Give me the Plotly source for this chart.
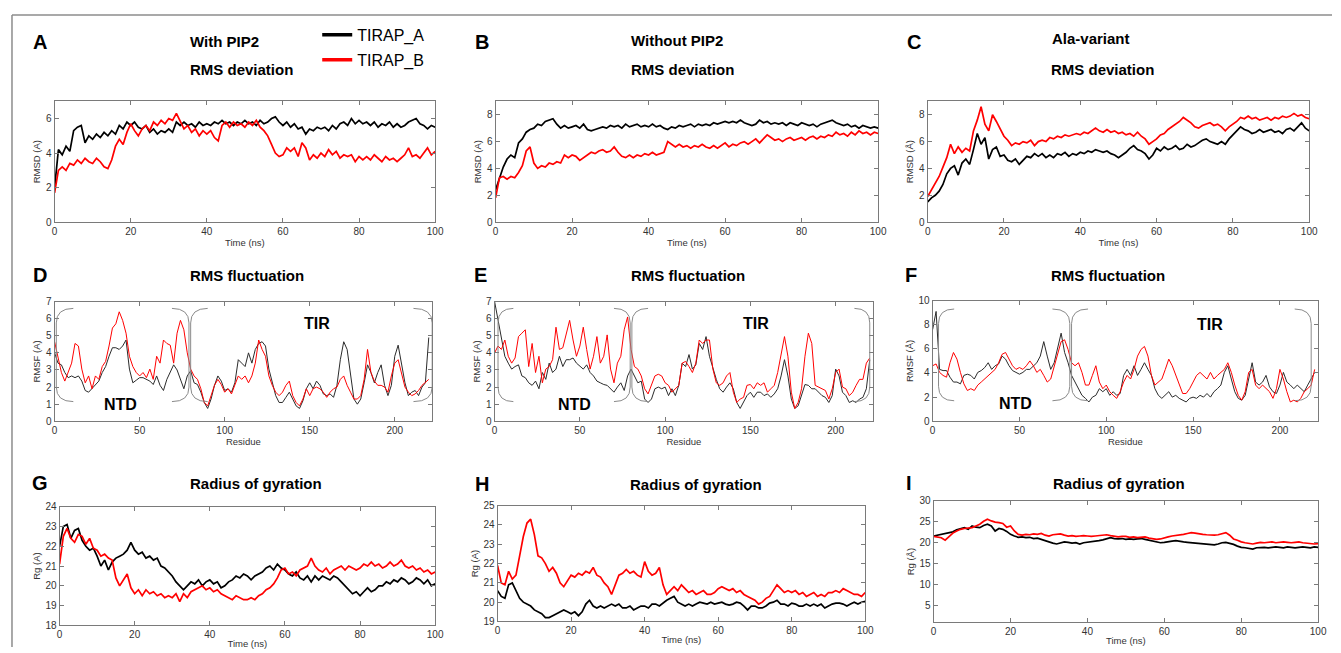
import plotly.graph_objects as go

# the page body puts the figure 8 px in from the window corner
PAGE_OFFSET = 8
FIG_W, FIG_H = 1341 - PAGE_OFFSET, 653 - PAGE_OFFSET

TIME_NS = list(range(0, 101))
RESIDUE = list(range(0, 221, 2))

# RMS deviation, with PIP2 (panel A)
RMSD_WITH_A = [
    2.0, 4.2, 3.9, 4.4, 4.1, 5.3, 5.5, 5.6, 4.6, 5.0,
    4.8, 5.1, 4.9, 5.2, 5.0, 5.3, 5.1, 5.6, 5.4, 5.8,
    5.6, 5.8, 5.5, 5.4, 5.6, 5.2, 5.4, 5.1, 5.3, 5.2,
    5.4, 5.2, 5.8, 5.6, 5.8, 5.6, 5.7, 5.5, 5.8, 5.6,
    5.7, 5.6, 5.8, 5.7, 5.9, 5.7, 5.8, 5.6, 5.8, 5.7,
    5.9, 5.7, 5.8, 5.6, 5.9, 5.7, 5.8, 6.0, 6.1, 5.8,
    5.6, 5.8, 5.5, 5.7, 5.4, 5.5, 5.1, 5.4, 5.3, 5.5,
    5.4, 5.5, 5.3, 5.6, 5.4, 5.7, 5.8, 5.6, 6.0, 5.7,
    5.9, 5.7, 5.8, 5.6, 5.8, 5.5, 5.7, 5.6, 5.8, 5.5,
    5.7, 5.5, 5.6, 5.8, 5.9, 6.0, 5.7, 5.6, 5.4, 5.6,
    5.5,
]
RMSD_WITH_B = [
    1.7, 3.0, 3.2, 3.0, 3.4, 3.3, 3.6, 3.4, 3.7, 3.5,
    3.4, 3.7, 3.5, 3.2, 3.1, 3.6, 4.4, 4.8, 4.5, 5.2,
    5.7, 5.3, 5.0, 5.4, 5.6, 5.3, 5.8, 5.6, 5.9, 5.7,
    6.0, 5.9, 6.3, 5.8, 5.4, 5.6, 5.2, 5.4, 5.0, 5.3,
    5.1, 5.3, 4.9, 4.7, 5.6, 5.8, 5.5, 5.8, 5.6, 5.7,
    5.5, 5.8, 5.6, 5.9, 5.5, 5.3, 5.0, 4.5, 4.0, 3.8,
    3.9, 4.3, 4.1, 4.3, 3.8, 4.6, 4.3, 3.6, 3.9, 3.7,
    4.0, 3.8, 4.2, 3.9, 4.1, 3.7, 3.9, 3.8, 3.9, 3.5,
    3.8, 3.6, 3.8, 3.6, 3.9, 3.7, 3.5, 3.8, 3.6, 3.7,
    3.5, 3.7, 3.9, 4.3, 3.8, 3.9, 3.7, 4.0, 4.3, 3.9,
    4.1,
]

# RMS deviation, without PIP2 (panel B)
RMSD_WITHOUT_A = [
    2.4, 3.2, 4.1, 4.7, 5.0, 4.8, 5.9, 6.2, 6.7, 6.9,
    7.0, 7.3, 7.2, 7.5, 7.6, 7.7, 7.3, 7.0, 7.2, 7.0,
    7.1, 7.2, 7.0, 7.3, 6.9, 6.8, 6.9, 7.0, 7.1, 7.0,
    7.2, 7.1, 7.2, 7.0, 7.3, 7.1, 7.2, 7.3, 7.1, 7.2,
    7.1, 7.3, 7.1, 7.2, 7.0, 6.9, 7.1, 7.0, 7.2, 7.1,
    7.2, 7.3, 7.1, 7.3, 7.2, 7.3, 7.2, 7.4, 7.3, 7.4,
    7.5, 7.4, 7.5, 7.4, 7.6, 7.4, 7.3, 7.2, 7.3, 7.6,
    7.4, 7.5, 7.3, 7.4, 7.3, 7.4, 7.2, 7.4, 7.3, 7.2,
    7.4, 7.3, 7.2, 7.3, 7.1, 7.3, 7.4, 7.5, 7.6, 7.4,
    7.3, 7.2, 7.3, 7.1, 7.2, 7.0, 7.2, 7.1, 7.0, 7.1,
    7.0,
]
RMSD_WITHOUT_B = [
    1.8, 3.3, 3.4, 3.2, 3.4, 3.3, 3.7, 4.2, 5.3, 5.6,
    4.4, 4.0, 4.2, 4.1, 4.4, 4.3, 4.5, 4.4, 5.0, 4.8,
    5.0, 4.9, 4.6, 4.8, 5.0, 5.2, 5.1, 5.3, 5.4, 5.2,
    5.3, 5.6, 5.2, 4.9, 4.8, 5.0, 4.8, 5.0, 4.9, 5.1,
    5.0, 5.2, 5.0, 5.1, 5.2, 6.0, 5.8, 5.6, 5.8, 5.6,
    5.7, 5.5, 5.7, 5.6, 5.8, 5.6, 5.5, 5.7, 5.5, 5.7,
    5.9, 5.6, 5.8, 5.7, 5.9, 6.0, 5.8, 6.0, 6.2, 5.9,
    6.2, 6.5, 6.3, 6.1, 6.2, 6.0, 6.2, 6.3, 6.1, 6.2,
    6.3, 6.1, 6.3, 6.4, 6.2, 6.4, 6.3, 6.5, 6.4, 6.7,
    6.5, 6.6, 6.4, 6.7, 6.5, 6.8, 6.6, 6.7, 6.5, 6.7,
    6.6,
]

# RMS deviation, Ala-variant (panel C)
RMSD_ALA_A = [
    1.5, 1.8, 2.0, 2.3, 2.8, 3.6, 4.0, 4.2, 3.5, 4.4,
    4.7, 4.3, 5.4, 6.6, 5.8, 6.3, 4.7, 5.4, 5.6, 4.9,
    5.0, 4.6, 4.5, 4.7, 4.3, 4.6, 4.9, 4.8, 5.1, 4.9,
    5.1, 4.8, 5.0, 4.8, 5.1, 5.0, 5.2, 4.9, 5.1, 5.0,
    5.2, 5.1, 5.3, 5.2, 5.4, 5.3, 5.2, 5.3, 5.1, 5.0,
    4.8, 5.0, 5.2, 5.5, 5.7, 5.4, 5.3, 5.1, 4.7, 5.0,
    5.5, 5.3, 5.6, 5.4, 5.5, 5.7, 5.4, 5.5, 5.8, 5.6,
    5.7, 5.9, 6.1, 6.2, 6.0, 5.9, 5.8, 6.0, 5.8, 6.2,
    6.5, 6.8, 7.1, 6.9, 6.8, 6.6, 6.7, 6.9, 6.7, 6.8,
    6.9, 6.7, 6.8, 6.6, 6.9, 7.0, 6.8, 7.1, 7.4, 7.0,
    6.8,
]
RMSD_ALA_B = [
    1.9, 2.4, 2.9, 3.4, 4.1, 4.8, 5.8, 5.1, 5.6, 5.2,
    5.5, 5.3, 6.8, 7.6, 8.6, 7.3, 6.8, 8.0, 7.5, 6.9,
    6.4, 6.1, 5.7, 5.9, 5.8, 6.0, 5.9, 6.1, 5.7, 6.0,
    6.1, 6.0, 6.3, 6.2, 6.4, 6.3, 6.5, 6.4, 6.5, 6.6,
    6.5, 6.7, 6.6, 6.8, 7.0, 6.8, 6.7, 6.9, 6.7, 6.8,
    6.6, 6.7, 6.5, 6.6, 6.4, 6.7, 6.4, 6.2, 5.8, 6.0,
    6.2, 6.5, 6.6, 6.9, 7.1, 7.3, 7.5, 7.8, 7.6, 7.4,
    7.1, 7.0, 7.2, 7.3, 7.4, 7.2, 7.3, 7.1, 6.8, 7.1,
    7.3, 7.5, 7.8, 7.7, 7.9, 7.7, 7.8, 7.6, 7.7, 7.8,
    7.6, 7.8, 7.7, 7.9, 7.8, 7.9, 8.1, 7.9, 8.0, 7.8,
    7.7,
]

# RMS fluctuation per residue (panels D, E, F)
RMSF_WITH_A = [
    4.0, 3.4, 3.3, 2.85, 2.55, 2.65, 2.55, 2.65, 2.35, 1.8,
    1.7, 1.9, 2.1, 2.35, 2.85, 3.2, 3.8, 4.3, 4.3, 4.2,
    4.4, 4.75, 3.05, 2.25, 2.4, 2.55, 2.55, 2.45, 2.35, 2.15,
    2.65, 2.1, 1.8, 2.45, 2.85, 3.3, 3.0, 2.45, 1.9, 2.65,
    2.95, 2.25, 2.15, 1.7, 1.1, 0.75, 1.3, 2.1, 2.65, 2.35,
    1.8, 1.9, 1.7, 2.25, 3.6, 3.4, 3.2, 4.0, 3.4, 4.2,
    4.55, 4.65, 4.4, 3.05, 2.25, 1.5, 1.1, 1.1, 1.4, 1.7,
    1.3, 0.9, 0.75, 1.2, 1.9, 2.25, 1.9, 2.35, 2.1, 1.6,
    1.5, 1.6, 1.4, 2.1, 3.6, 4.65, 4.2, 2.65, 1.3, 1.0,
    1.3, 2.25, 3.3, 2.85, 2.25, 2.85, 3.3, 2.1, 1.5, 2.1,
    3.8, 4.45, 3.4, 2.25, 1.5, 1.7, 1.8, 1.5, 2.0, 2.25,
    4.9,
]
RMSF_WITH_B = [
    4.65, 3.8, 2.85, 2.35, 2.85, 3.4, 4.55, 4.4, 3.05, 2.25,
    2.65, 1.9, 2.65, 2.45, 3.2, 3.5, 4.4, 5.45, 5.7, 6.4,
    5.9, 5.15, 3.8, 3.2, 2.85, 2.65, 2.85, 2.55, 3.05, 2.45,
    3.8, 3.4, 4.75, 4.55, 4.45, 3.4, 5.15, 5.9, 5.35, 4.0,
    3.05, 2.65, 2.45, 1.9, 1.1, 0.9, 1.5, 2.1, 2.45, 2.15,
    1.7, 1.9, 1.6, 2.1, 2.65, 2.45, 2.65, 2.25, 2.65, 3.4,
    4.75, 4.2, 3.8, 2.65, 2.1, 1.7, 1.5, 1.7, 2.1, 2.35,
    1.5, 1.1, 0.9, 1.3, 1.9, 1.5, 1.9, 2.0, 1.9, 1.7,
    1.4, 1.7, 1.9, 2.0, 2.45, 2.65, 2.1, 1.7, 1.3, 1.3,
    1.5, 2.45, 4.2, 2.85, 2.35, 2.1, 2.1, 2.0, 1.7, 2.65,
    3.4, 3.6, 2.85, 2.0, 1.7, 1.5, 1.6, 1.8, 2.1, 2.25,
    2.45,
]
RMSF_WITHOUT_A = [
    7.0, 5.9, 4.75, 3.8, 3.4, 3.05, 3.2, 3.3, 2.65, 2.55,
    2.25, 2.1, 2.35, 1.9, 2.85, 2.45, 3.4, 2.85, 3.05, 3.8,
    3.2, 3.6, 3.6, 3.7, 3.4, 3.2, 3.05, 3.3, 2.85, 2.65,
    2.35, 2.25, 2.15, 2.1, 1.9, 1.7, 2.0, 2.25, 1.8, 2.65,
    3.05, 2.65, 2.25, 2.35, 1.3, 1.1, 1.3, 1.9, 2.0, 1.9,
    2.0, 1.5, 1.9, 1.5, 2.1, 3.4, 3.2, 3.9, 3.05, 3.3,
    4.55, 4.2, 4.95, 3.8, 3.05, 2.45, 1.9, 1.7, 2.0, 2.25,
    1.9, 1.1, 0.75, 1.1, 1.5, 1.7, 1.4, 1.7, 1.7, 1.5,
    1.6, 1.4, 1.6, 1.9, 2.65, 3.6, 2.65, 1.3, 0.75, 0.9,
    1.5, 2.15, 2.1, 1.9, 1.9, 1.7, 1.5, 1.4, 1.1, 1.5,
    3.05, 2.65, 1.7, 1.5, 1.1, 1.2, 1.1, 1.3, 1.4, 1.9,
    3.6,
]
RMSF_WITHOUT_B = [
    4.0, 4.4, 4.2, 4.75, 3.8, 3.4, 3.7, 4.95, 5.15, 5.35,
    3.2, 4.55, 2.85, 3.8, 2.25, 3.05, 3.2, 3.6, 5.5, 4.2,
    4.3, 5.15, 5.9, 4.75, 3.8, 4.4, 5.5, 4.2, 3.05, 3.8,
    4.95, 3.4, 3.8, 5.05, 3.05, 2.25, 3.4, 3.8, 5.35, 6.1,
    4.2, 3.2, 3.05, 2.65, 1.9, 1.6, 2.1, 2.65, 2.75, 2.65,
    2.25, 2.1, 1.7, 1.9, 2.1, 3.4, 3.5, 3.2, 2.85, 3.4,
    4.75, 4.55, 4.75, 4.75, 3.05, 2.25, 2.1, 2.25, 2.65, 2.85,
    1.7, 1.1, 1.3, 1.4, 2.1, 2.15, 1.9, 2.25, 2.1, 2.25,
    1.7, 1.9, 2.1, 2.85, 3.8, 4.95, 3.8, 1.7, 0.75, 1.1,
    1.9, 3.8, 5.15, 4.55, 2.1, 2.0, 1.9, 1.8, 1.3, 1.9,
    2.85, 3.05, 2.0, 1.9, 1.5, 1.7, 2.1, 2.45, 2.45, 3.4,
    3.7,
]
RMSF_ALA_A = [
    7.6, 9.1, 4.3, 4.2, 4.2, 3.65, 3.25, 3.25, 3.1, 3.8,
    3.9, 3.8, 3.5, 4.05, 4.2, 4.45, 4.85, 4.3, 4.6, 4.75,
    5.4, 5.15, 4.6, 4.2, 4.05, 3.9, 4.05, 4.3, 4.3, 4.6,
    4.85, 5.4, 6.6, 5.4, 4.3, 4.85, 6.2, 7.3, 5.7, 4.85,
    3.8, 3.25, 2.7, 2.15, 1.9, 1.6, 2.0, 2.15, 2.7, 2.45,
    2.7, 2.15, 2.45, 2.15, 2.3, 3.8, 4.3, 3.8, 4.6, 3.8,
    4.3, 4.85, 4.3, 3.8, 2.7, 2.15, 1.9, 2.15, 2.45, 2.0,
    2.15, 1.9, 1.75, 1.6, 1.9, 2.0, 1.9, 2.15, 2.0, 2.3,
    2.0, 2.45, 2.7, 3.0, 4.05, 4.6, 3.5, 2.45, 1.9, 1.75,
    2.15, 3.5, 4.85, 3.25, 3.0, 3.25, 3.8, 2.85, 2.45, 2.3,
    3.0, 4.05, 3.25, 3.0, 2.7, 3.0, 2.7, 2.45, 3.0, 3.5,
    4.05,
]
RMSF_ALA_B = [
    4.6, 4.75, 4.05, 3.8, 3.65, 4.85, 5.7, 5.15, 4.05, 3.1,
    2.55, 2.7, 2.55, 3.0, 3.25, 3.5, 3.8, 4.05, 4.3, 4.85,
    5.55, 5.7, 5.15, 4.6, 4.3, 4.45, 4.3, 4.6, 5.0, 4.6,
    4.05, 4.3, 3.8, 3.25, 3.5, 4.6, 5.7, 6.6, 6.75, 5.95,
    4.85, 4.6, 4.85, 4.05, 3.0, 3.0, 3.8, 4.6, 3.25, 2.7,
    3.0, 2.45, 2.15, 1.9, 2.45, 3.25, 3.8, 3.5, 4.3, 5.4,
    5.95, 6.2, 5.4, 3.8, 3.0, 3.25, 3.5, 4.3, 5.15, 4.6,
    3.8, 3.0, 2.3, 2.3, 2.7, 3.25, 3.8, 4.05, 3.8, 3.5,
    4.05, 3.5, 3.8, 4.05, 4.3, 4.85, 4.05, 3.0, 2.15, 1.75,
    2.45, 4.05, 4.3, 3.0, 2.7, 3.0, 2.7, 2.45, 1.9, 2.7,
    4.3, 3.5, 2.45, 1.6, 1.75, 1.6, 1.9, 2.45, 2.7, 3.0,
    4.3,
]

# Radius of gyration (panels G, H, I)
RG_WITH_A = [
    22.0, 23.0, 23.1, 22.4, 22.8, 22.9, 22.3, 22.0, 21.8, 21.9,
    21.5, 21.0, 21.3, 20.8, 21.2, 21.4, 21.5, 21.6, 21.8, 22.2,
    21.8, 21.6, 21.7, 21.4, 21.5, 21.3, 21.4, 21.0, 20.9, 20.7,
    20.5, 20.2, 20.0, 19.8, 20.0, 20.2, 20.1, 20.3, 20.0, 20.2,
    20.3, 20.1, 20.2, 19.9, 20.0, 20.2, 20.3, 20.5, 20.4, 20.6,
    20.5, 20.3, 20.5, 20.6, 20.7, 20.9, 21.0, 20.8, 21.1, 20.9,
    20.8, 20.6, 20.5, 20.7, 20.4, 20.3, 20.5, 20.2, 20.5, 20.3,
    20.5, 20.4, 20.3, 20.5, 20.4, 20.2, 20.0, 19.8, 19.6, 19.7,
    19.5, 19.7, 19.9, 19.7, 19.8, 20.0, 20.0, 20.2, 20.1, 20.3,
    20.2, 20.4, 20.3, 20.1, 20.2, 20.4, 20.3, 20.1, 20.3, 20.0,
    20.1,
]
RG_WITH_B = [
    21.1, 22.5, 22.9, 22.4, 22.2, 22.6, 22.5, 22.1, 22.4, 21.9,
    21.8, 21.5, 21.6, 21.4, 21.3, 20.4, 20.0, 20.3, 20.6, 19.9,
    19.6, 19.8, 19.5, 19.8, 19.6, 19.7, 19.5, 19.6, 19.4, 19.5,
    19.4, 19.6, 19.2, 19.6, 19.4, 19.7, 19.8, 19.9, 20.0, 19.8,
    19.9, 19.7, 19.8, 19.6, 19.5, 19.4, 19.3, 19.5, 19.4, 19.3,
    19.3, 19.4, 19.3, 19.5, 19.6, 19.8, 19.9, 20.1, 20.4, 20.8,
    20.9, 20.6, 20.7, 20.5, 20.8, 20.9, 21.0, 21.4, 21.0, 20.8,
    20.7, 20.9, 20.6, 20.8, 20.9, 21.0, 20.8, 21.0, 20.9, 20.8,
    20.9, 21.1, 21.0, 21.2, 21.0, 21.1, 20.9, 21.0, 21.2, 21.0,
    21.1, 21.3, 21.0, 20.9, 21.0, 20.8, 20.9, 20.7, 20.8, 20.6,
    20.7,
]
RG_WITHOUT_A = [
    20.6, 20.3, 20.2, 20.9, 21.0, 20.6, 20.2, 20.0, 19.9, 19.8,
    19.6, 19.5, 19.4, 19.2, 19.2, 19.3, 19.4, 19.5, 19.6, 19.5,
    19.4, 19.5, 19.3, 19.5, 19.9, 20.1, 19.8, 19.7, 19.8, 19.7,
    19.8, 19.9, 19.8, 19.9, 19.7, 19.7, 19.8, 19.6, 19.7, 19.8,
    19.8, 19.7, 19.9, 19.9, 19.8, 19.95, 20.1, 20.2, 20.3, 20.0,
    19.9, 19.8, 19.9, 19.8, 19.9, 20.0, 19.95, 19.9, 20.0, 19.9,
    19.95, 20.0, 19.9, 19.85, 19.9, 20.0, 19.95, 19.8, 19.6, 19.8,
    19.8, 19.7, 19.7, 19.8, 19.95, 20.0, 20.1, 19.9, 19.9, 19.8,
    19.95, 19.9, 19.8, 19.8, 19.9, 19.8, 19.9, 19.8, 19.9, 19.7,
    19.8, 19.9, 19.95, 19.95, 19.9, 19.8, 19.9, 20.0, 19.9, 20.0,
    20.05,
]
RG_WITHOUT_B = [
    21.9, 21.0, 20.9, 21.6, 21.2, 21.4, 22.4, 23.4, 24.1, 24.3,
    23.5, 22.4, 22.3, 22.0, 21.6, 21.8, 21.5, 21.0, 20.8, 21.1,
    21.4, 21.3, 21.5, 21.4, 21.6, 21.5, 21.8, 21.4, 21.3, 21.0,
    20.8, 20.4, 20.9, 21.4, 21.5, 21.7, 21.5, 21.6, 21.4, 21.3,
    22.1, 21.6, 21.4, 21.5, 21.8, 20.9, 20.4, 20.6, 20.8, 20.6,
    20.9, 20.7, 20.5, 20.6, 20.4, 20.5, 20.6, 20.4, 20.4, 20.5,
    20.7, 20.8, 20.7, 20.6, 20.7, 20.5, 20.6, 20.4, 20.3, 20.2,
    20.1, 19.9, 20.0, 20.2, 20.3, 20.6, 20.9, 20.7, 20.5, 20.6,
    20.5, 20.6, 20.4, 20.5, 20.3, 20.4, 20.5, 20.3, 20.4, 20.3,
    20.5, 20.5, 20.6, 20.5, 20.7, 20.6, 20.5, 20.4, 20.4, 20.3,
    20.5,
]
RG_ALA_A = [
    21.6, 21.8, 22.0, 22.2, 22.4, 22.6, 23.1, 23.3, 23.6, 23.2,
    24.0, 23.7, 23.6, 24.1, 24.4, 24.0, 22.8, 23.4, 23.2, 22.7,
    22.0, 21.6, 21.3, 21.4, 21.2, 21.3, 21.0, 21.1, 20.8, 20.5,
    20.1, 19.9, 19.7, 19.9, 20.2, 20.1, 19.9, 20.0, 19.7, 20.0,
    20.1, 20.2, 20.4, 20.5, 20.7, 21.0, 21.2, 21.0, 20.9, 21.0,
    20.8, 20.9, 20.8, 20.9, 21.0, 20.8, 20.6, 20.3, 20.1, 20.0,
    20.1, 20.3, 20.4, 20.5, 20.3, 20.2, 20.1, 20.0, 19.9, 19.8,
    19.7, 19.6, 19.6, 19.5, 19.7, 20.0, 20.1, 19.9, 19.6, 19.2,
    18.9, 18.8, 18.6, 18.5, 18.8, 18.9, 18.9, 18.8, 18.9, 19.0,
    18.9, 18.8, 19.0, 18.9, 18.8, 18.9, 19.0, 18.9, 18.8, 19.0,
    18.9,
]
RG_ALA_B = [
    21.5, 21.3, 21.2, 20.6, 21.4, 22.3, 22.8, 23.2, 23.4, 23.5,
    23.6, 24.0, 24.4, 25.1, 25.6, 25.2, 24.9, 24.8, 24.6, 23.7,
    24.0, 22.8, 22.0, 21.8, 22.0, 21.9, 22.1, 22.0, 22.2, 21.8,
    21.6, 21.9, 22.0, 22.1, 21.8, 21.6, 21.7, 21.5, 21.6, 21.7,
    21.6, 21.5, 21.6, 21.7, 21.8, 21.9, 21.7, 21.5, 21.4, 21.5,
    21.5, 21.3, 21.4, 21.2, 21.3, 21.4, 21.1, 21.0, 20.8, 20.9,
    21.2, 21.4, 21.6, 21.7, 21.8, 22.0, 22.2, 22.4, 22.3, 22.1,
    22.0, 21.9, 21.8, 21.8, 21.9, 22.1, 22.4, 21.8, 20.9, 20.6,
    20.2, 20.0, 19.8, 19.7, 19.9, 20.1, 20.0, 20.1, 20.2, 20.0,
    20.1, 20.2, 20.1, 20.0, 20.1, 20.2, 20.0, 19.9, 19.8, 19.7,
    19.8,
]

BLACK = "#000000"
RED = "#ff0000"
FRAME = "#7a7a7a"
FONT = "Liberation Sans, Arial, sans-serif"

# plot boxes in window pixels: left, top, right, bottom
PANELS = [
    dict(box=(52, 97, 436, 220), x=TIME_NS, a=RMSD_WITH_A, b=RMSD_WITH_B,
         xr=[0, 100], xt=list(range(0, 101, 20)), xlab="Time (ns)",
         yr=[0, 7], yt=[0, 2, 4, 6], ylab="RMSD (A)", lw=1.7),
    dict(box=(497, 97, 883, 220), x=TIME_NS, a=RMSD_WITHOUT_A, b=RMSD_WITHOUT_B,
         xr=[0, 100], xt=list(range(0, 101, 20)), xlab="Time (ns)",
         yr=[0, 9], yt=[0, 2, 4, 6, 8], ylab="RMSD (A)", lw=1.7),
    dict(box=(933, 97, 1318, 220), x=TIME_NS, a=RMSD_ALA_A, b=RMSD_ALA_B,
         xr=[0, 100], xt=list(range(0, 101, 20)), xlab="Time (ns)",
         yr=[0, 9], yt=[0, 2, 4, 6, 8], ylab="RMSD (Å)", lw=1.7),
    dict(box=(52, 301, 433, 423), x=RESIDUE, a=RMSF_WITH_A, b=RMSF_WITH_B,
         xr=[0, 222], xt=list(range(0, 201, 50)), xlab="Residue",
         yr=[0, 7], yt=list(range(0, 8)), ylab="RMSF (A)", lw=1.0),
    dict(box=(496, 301, 878, 423), x=RESIDUE, a=RMSF_WITHOUT_A, b=RMSF_WITHOUT_B,
         xr=[0, 222], xt=list(range(0, 201, 50)), xlab="Residue",
         yr=[0, 7], yt=list(range(0, 8)), ylab="RMSF (A)", lw=1.0),
    dict(box=(938, 300, 1327, 423), x=RESIDUE, a=RMSF_ALA_A, b=RMSF_ALA_B,
         xr=[0, 222], xt=list(range(0, 201, 50)), xlab="Residue",
         yr=[0, 10], yt=list(range(0, 11, 2)), ylab="RMSF (Å)", lw=1.0),
    dict(box=(57, 510, 436, 631), x=TIME_NS, a=RG_WITH_A, b=RG_WITH_B,
         xr=[0, 100], xt=list(range(0, 101, 20)), xlab="Time (ns)",
         yr=[18, 24], yt=list(range(18, 25)), ylab="Rg (A)", lw=1.7),
    dict(box=(499, 509, 870, 627), x=TIME_NS, a=RG_WITHOUT_A, b=RG_WITHOUT_B,
         xr=[0, 100], xt=list(range(0, 101, 20)), xlab="Time (ns)",
         yr=[19, 25], yt=list(range(19, 26)), ylab="Rg (A)", lw=1.7),
    dict(box=(939, 504, 1327, 628), x=TIME_NS, a=RG_ALA_A, b=RG_ALA_B,
         xr=[0, 100], xt=list(range(0, 101, 20)), xlab="Time (ns)",
         yr=[1, 30], yt=list(range(5, 31, 5)), ylab="Rg (Å)", lw=1.7),
]

# text placed in window pixels: text, x, y, size
LABELS = [
    ("A", 37, 37, 20), ("B", 483, 37, 20), ("C", 919, 37, 20),
    ("D", 37, 274, 20), ("E", 482, 274, 20), ("F", 916, 274, 20),
    ("G", 37, 486, 20), ("H", 483, 487, 20), ("I", 914, 486, 20),
    ("With PIP2", 223, 36, 15), ("Without PIP2", 680, 35, 15),
    ("Ala-variant", 1098, 33, 15),
    ("RMS deviation", 241, 65, 15), ("RMS deviation", 686, 65, 15),
    ("RMS deviation", 1109, 65, 15),
    ("RMS fluctuation", 246, 274, 15), ("RMS fluctuation", 691, 274, 15),
    ("RMS fluctuation", 1115, 274, 15),
    ("Radius of gyration", 255, 486, 15), ("Radius of gyration", 699, 487, 15),
    ("Radius of gyration", 1126, 486, 15),
]

# domain brackets on the RMSF panels: (x_edge, x_tip, y_bot, y_top, corner)
BRACKETS = [
    [(1, 11, 1.15, 6.6, 0.85), (79, 69, 1.15, 6.6, 0.85),
     (80, 90, 1.15, 6.6, 0.85), (222, 211, 1.15, 6.6, 0.85)],
    [(2, 11, 1.15, 6.6, 0.85), (79.5, 70, 1.15, 6.6, 0.85),
     (80.5, 90, 1.15, 6.6, 0.85), (220, 211, 1.15, 6.6, 0.85)],
    [(3.4, 12.4, 1.7, 9.3, 1.2), (79, 69, 1.7, 9.3, 1.2),
     (80, 89.5, 1.7, 9.3, 1.2), (218, 208.5, 1.7, 9.3, 1.2)],
]
DOMAIN_TEXT = [
    [("NTD", 39, 1.0), ("TIR", 154, 5.7)],
    [("NTD", 47, 1.0), ("TIR", 153, 5.7)],
    [("NTD", 48, 1.5), ("TIR", 160, 8.05)],
]


def px_x(x):
    return (x - PAGE_OFFSET) / FIG_W


def px_y(y):
    return 1 - (y - PAGE_OFFSET) / FIG_H


def bracket_path(x_edge, x_tip, y_bot, y_top, r):
    return (
        f"M {x_tip},{y_top} Q {x_edge},{y_top} {x_edge},{y_top - r} "
        f"L {x_edge},{y_bot + r} Q {x_edge},{y_bot} {x_tip},{y_bot}"
    )


def axis_style(rng, tickvals, title, anchor, domain, standoff):
    return dict(
        domain=domain,
        anchor=anchor,
        range=rng,
        tickvals=tickvals,
        ticks="inside",
        ticklen=4,
        tickcolor=FRAME,
        showline=True,
        linecolor=FRAME,
        linewidth=1,
        mirror="ticks",
        showgrid=False,
        zeroline=False,
        tickfont=dict(family=FONT, size=10, color="#333333"),
        title=dict(text=title, font=dict(family=FONT, size=9.5, color="#333333"), standoff=standoff),
    )


fig = go.Figure()
layout = {}

for i, p in enumerate(PANELS, start=1):
    xname = "x" if i == 1 else f"x{i}"
    yname = "y" if i == 1 else f"y{i}"
    left, top, right, bottom = p["box"]
    bottom_row = i >= 7
    layout["xaxis" if i == 1 else f"xaxis{i}"] = axis_style(
        p["xr"], p["xt"], p["xlab"], yname, [px_x(left), min(1, px_x(right))], 0 if bottom_row else 3
    )
    layout["yaxis" if i == 1 else f"yaxis{i}"] = axis_style(
        p["yr"], p["yt"], p["ylab"], xname, [px_y(bottom), px_y(top)], 3
    )
    rmsf = p["x"] is RESIDUE
    fig.add_trace(go.Scatter(
        x=p["x"], y=p["a"], mode="lines", xaxis=xname, yaxis=yname,
        line=dict(color="#2b2b2b" if rmsf else BLACK, width=p["lw"]),
        showlegend=False, hoverinfo="skip",
    ))
    fig.add_trace(go.Scatter(
        x=p["x"], y=p["b"], mode="lines", xaxis=xname, yaxis=yname,
        line=dict(color=RED, width=p["lw"]),
        showlegend=False, hoverinfo="skip",
    ))

# legend entries
for name, color, group in [("TIRAP_A", BLACK, "a"), ("TIRAP_B", RED, "b")]:
    fig.add_trace(go.Scatter(
        x=[None], y=[None], mode="lines", name=name, legendgroup=group,
        line=dict(color=color, width=3.5),
    ))

shapes = [
    dict(type="line", xref="paper", yref="paper", x0=px_x(9), x1=1, y0=px_y(9), y1=px_y(9),
         line=dict(color="#8c8c8c", width=1.5)),
    dict(type="line", xref="paper", yref="paper", x0=px_x(9), x1=px_x(9), y0=0, y1=px_y(9),
         line=dict(color="#8c8c8c", width=1.5)),
]
annotations = []

for text, x, y, size in LABELS:
    annotations.append(dict(
        text=f"<b>{text}</b>", x=px_x(x), y=px_y(y),
        xref="paper", yref="paper", showarrow=False, xanchor="center", yanchor="middle",
        font=dict(family=FONT, size=size, color="#000000"),
    ))

for k, (brs, texts) in enumerate(zip(BRACKETS, DOMAIN_TEXT)):
    idx = 4 + k
    for br in brs:
        shapes.append(dict(
            type="path", xref=f"x{idx}", yref=f"y{idx}", path=bracket_path(*br),
            line=dict(color="#8a8a8a", width=1),
        ))
    for text, x, y in texts:
        annotations.append(dict(
            text=f"<b>{text}</b>", x=x, y=y, xref=f"x{idx}", yref=f"y{idx}",
            showarrow=False, font=dict(family=FONT, size=16, color="#000000"),
        ))

fig.update_layout(
    width=FIG_W,
    height=FIG_H,
    margin=dict(l=0, r=0, t=0, b=0),
    paper_bgcolor="white",
    plot_bgcolor="white",
    shapes=shapes,
    annotations=annotations,
    showlegend=True,
    legend=dict(
        x=px_x(317), y=px_y(12), xanchor="left", yanchor="top",
        font=dict(family=FONT, size=16, color="#000000"),
        bgcolor="rgba(0,0,0,0)", itemwidth=30, tracegroupgap=1,
    ),
    **layout,
)

fig.write_html("out.html")
